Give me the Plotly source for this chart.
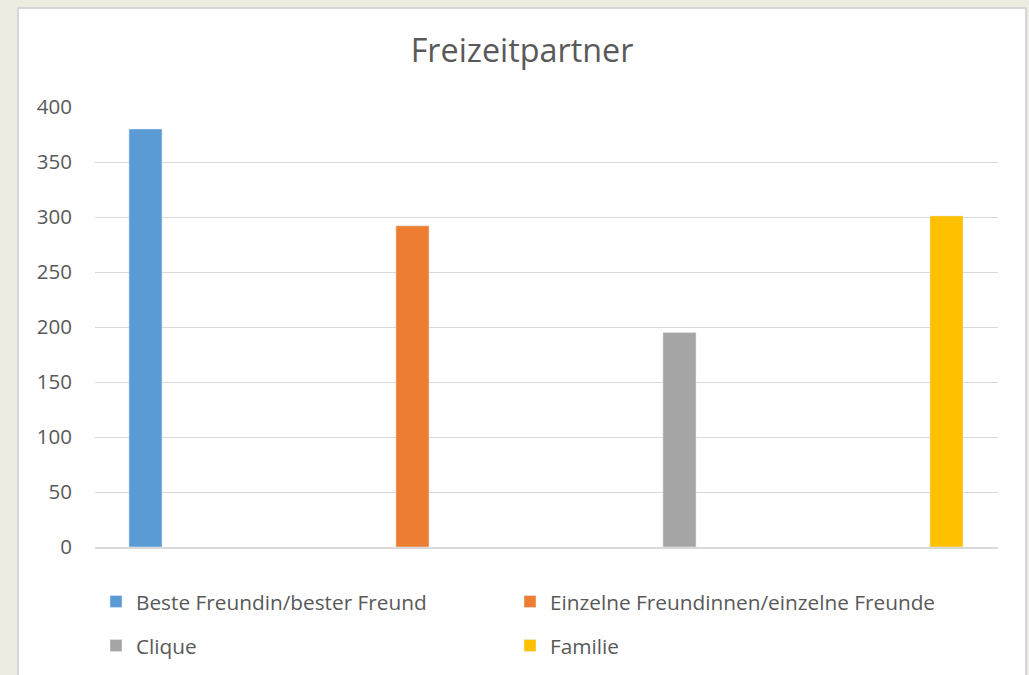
import plotly.graph_objects as go

series_names = ["Beste Freundin/bester Freund", "Einzelne Freundinnen/einzelne Freunde", "Clique", "Familie"]
categories = ["c1", "c2", "c3", "c4"]
values = [380, 292, 195, 301]
colors = ["#5B9BD5", "#ED7D31", "#A5A5A5", "#FFC000"]
y_ticks = [0, 50, 100, 150, 200, 250, 300, 350, 400]

W, H = 1029, 675
L, R, T, B = 95, 31, 107, 128
pw, ph = W - L - R, H - T - B

legend_ids = ["legend", "legend2", "legend3", "legend4"]

fig = go.Figure()
for name, cat, val, col, lid in zip(series_names, categories, values, colors, legend_ids):
    fig.add_trace(go.Bar(
        x=[cat], y=[val], name=name, marker_color=col, width=0.124, legend=lid,
        showlegend=True,
    ))

def px2x(p):
    return (p - L) / pw

def px2y(p):
    return (H - B - p) / ph

txt = "#595959"
fnt = "Open Sans"
lf = 20.8

# legend slot positions (pixel origin x, row centre y)
slots = [(96, 602), (510, 602), (96, 646), (510, 646)]
legends = {}
for lid, (lx, ly) in zip(legend_ids, slots):
    legends[lid] = dict(orientation="h", x=px2x(lx), xanchor="left", y=px2y(ly), yanchor="middle",
                        bgcolor="rgba(0,0,0,0)", font=dict(size=lf, color=txt, family=fnt))

fig.update_layout(
    width=W, height=H,
    showlegend=True,
    margin=dict(l=L, r=R, t=T, b=B, autoexpand=False),
    paper_bgcolor="#EEEBE0",
    plot_bgcolor="white",
    barmode="overlay",
    font=dict(family=fnt, color=txt, size=lf),
    title=dict(text="Freizeitpartner", x=522 / W, xref="container", xanchor="center",
               y=1 - 51 / H, yref="container", yanchor="middle",
               font=dict(size=32.3, color=txt, family=fnt)),
    xaxis=dict(categoryorder="array", categoryarray=categories, range=[-0.1891, 3.193],
               showticklabels=False, showgrid=False, showline=True, linecolor="#D9D9D9",
               linewidth=2, ticks="", zeroline=False, fixedrange=True),
    yaxis=dict(range=[0, 400], tickvals=y_ticks, showgrid=True, gridcolor="#D9D9D9",
               gridwidth=1, zeroline=False, showline=False, ticks="",
               ticklabelstandoff=22, tickfont=dict(size=20.5, color=txt, family=fnt)),
    shapes=[dict(type="rect", xref="paper", yref="paper", layer="below",
                 x0=px2x(18), x1=px2x(1026), y0=px2y(720), y1=px2y(8),
                 fillcolor="white", line=dict(color="#D6D6D6", width=2))],
    **legends,
)

fig.write_html(
    "out.html",
    config={"displayModeBar": False},
    post_script="document.body.style.margin='0';document.body.style.background='#EEEBE0';",
)
